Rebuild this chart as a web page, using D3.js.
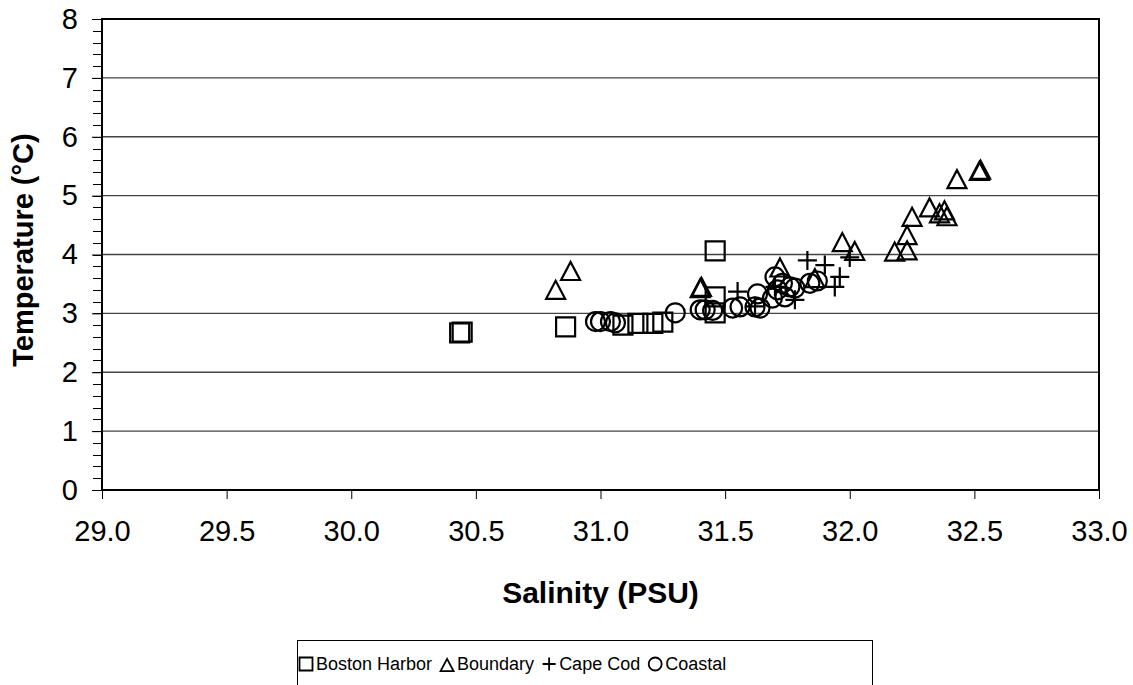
<!DOCTYPE html>
<html>
<head>
<meta charset="utf-8">
<script src="https://cdn.jsdelivr.net/npm/d3@7"></script>
<style>
  body { margin: 0; background: #fff; }
  text { font-family: "Liberation Sans", Arial, sans-serif; }
</style>
</head>
<body>
<div id="chart"></div>
<script>
// Salinity (PSU) / Temperature (°C)
var harborSal  = [30.435, 30.445, 30.86, 31.09, 31.15, 31.21, 31.25, 31.46, 31.46, 31.46];
var harborTemp = [2.67, 2.68, 2.77, 2.80, 2.83, 2.83, 2.85, 4.06, 3.28, 3.01];

var boundSal  = [30.82, 30.88, 31.40, 31.405, 31.72, 31.86, 31.97, 32.02, 32.18, 32.23, 32.23, 32.25, 32.32, 32.36, 32.38, 32.39, 32.43, 32.52, 32.525];
var boundTemp = [3.40, 3.72, 3.43, 3.45, 3.78, 3.60, 4.21, 4.06, 4.05, 4.07, 4.33, 4.64, 4.80, 4.70, 4.75, 4.65, 5.28, 5.42, 5.44];

var capeSal  = [31.55, 31.62, 31.70, 31.78, 31.83, 31.90, 31.96, 31.94, 32.00];
var capeTemp = [3.37, 3.12, 3.45, 3.23, 3.90, 3.82, 3.62, 3.45, 3.95];

var coastSal  = [30.98, 31.00, 31.04, 31.06, 31.30, 31.40, 31.42, 31.45, 31.53, 31.56, 31.62, 31.63, 31.64, 31.69, 31.70, 31.71, 31.73, 31.76, 31.74, 31.78, 31.84, 31.87];
var coastTemp = [2.86, 2.86, 2.86, 2.84, 3.01, 3.06, 3.06, 3.05, 3.09, 3.11, 3.11, 3.33, 3.09, 3.26, 3.62, 3.40, 3.51, 3.45, 3.28, 3.43, 3.51, 3.55];

var seriesNames = ["Boston Harbor", "Boundary", "Cape Cod", "Coastal"];
var xTicks = [29.0, 29.5, 30.0, 30.5, 31.0, 31.5, 32.0, 32.5, 33.0];
var yTicks = [0, 1, 2, 3, 4, 5, 6, 7, 8];

var width = 1133, height = 685;
var margin = {top: 19, right: 34, bottom: 195, left: 102};

var svg = d3.select("#chart").append("svg")
    .attr("width", width)
    .attr("height", height);

var x = d3.scaleLinear().domain([29, 33]).range([margin.left, width - margin.right]);
var y = d3.scaleLinear().domain([0, 8]).range([height - margin.bottom, margin.top]);

// gridlines
svg.append("g")
  .selectAll("line")
  .data(yTicks.slice(1, -1))
  .join("line")
    .attr("x1", x(29)).attr("x2", x(33))
    .attr("y1", d => y(d)).attr("y2", d => y(d))
    .attr("stroke", "#444").attr("stroke-width", 1.3);

// minor y ticks
svg.append("g")
  .selectAll("line")
  .data(d3.range(0, 8.01, 0.2))
  .join("line")
    .attr("x1", x(29) - 9).attr("x2", x(29))
    .attr("y1", d => Math.round(y(d)) + 0.5).attr("y2", d => Math.round(y(d)) + 0.5)
    .attr("stroke", "#000").attr("stroke-width", 1);

// y axis
svg.append("g")
  .attr("transform", `translate(${x(29)},0)`)
  .call(d3.axisLeft(y).tickValues(yTicks).tickSize(10).tickPadding(14).tickFormat(d3.format("d")))
  .call(g => g.select(".domain").remove())
  .call(g => g.selectAll("text").attr("font-size", 29).attr("fill", "#000")
      .attr("font-family", "Liberation Sans, Arial, sans-serif"));

// x axis
svg.append("g")
  .attr("transform", `translate(0,${y(0)})`)
  .call(d3.axisBottom(x).tickValues(xTicks).tickSize(9).tickPadding(21).tickFormat(d3.format(".1f")))
  .call(g => g.select(".domain").remove())
  .call(g => g.selectAll("text").attr("font-size", 29).attr("fill", "#000")
      .attr("font-family", "Liberation Sans, Arial, sans-serif"));

// frame
svg.append("rect")
  .attr("x", x(29)).attr("y", y(8))
  .attr("width", x(33) - x(29)).attr("height", y(0) - y(8))
  .attr("fill", "none").attr("stroke", "#000").attr("stroke-width", 2);

// axis titles
svg.append("text")
  .attr("x", (x(29) + x(33)) / 2).attr("y", 603)
  .attr("text-anchor", "middle")
  .attr("font-size", 30).attr("font-weight", "bold")
  .text("Salinity (PSU)");

svg.append("text")
  .attr("transform", `translate(33,250) rotate(-90)`)
  .attr("text-anchor", "middle")
  .attr("font-size", 29).attr("font-weight", "bold")
  .text("Temperature (°C)");

function markerPath(i, s) {
  if (i === 0) return `M${-s/2},${-s/2}h${s}v${s}h${-s}Z`;
  if (i === 1) { var h = s * 0.95; return `M0,${-h/2}L${s/2},${h/2}L${-s/2},${h/2}Z`; }
  if (i === 2) return `M${-s/2},0H${s/2}M0,${-s/2}V${s/2}`;
  return d3.arc()({innerRadius: 0, outerRadius: s / 2, startAngle: 0, endAngle: 2 * Math.PI});
}

var seriesData = [
  d3.zip(harborSal, harborTemp),
  d3.zip(boundSal, boundTemp),
  d3.zip(capeSal, capeTemp),
  d3.zip(coastSal, coastTemp)
];

var plot = svg.append("g");
seriesData.forEach(function(pts, i) {
  plot.append("g")
    .selectAll("path")
    .data(pts)
    .join("path")
      .attr("transform", d => `translate(${x(d[0])},${y(d[1])})`)
      .attr("d", markerPath(i, 19))
      .attr("fill", "none")
      .attr("stroke", "#000")
      .attr("stroke-width", 2.2);
});

// legend
var legend = svg.append("g");
legend.append("rect")
  .attr("x", 297.5).attr("y", 640.5)
  .attr("width", 575).attr("height", 60)
  .attr("fill", "#fff").attr("stroke", "#000").attr("stroke-width", 1);

var cx = 306;
seriesNames.forEach(function(name, i) {
  legend.append("path")
    .attr("transform", `translate(${cx},${i === 1 ? 665 : 664})`)
    .attr("d", markerPath(i, 13))
    .attr("fill", "none").attr("stroke", "#000").attr("stroke-width", 1.8);
  var t = legend.append("text")
    .attr("x", cx + 10).attr("y", 670)
    .attr("font-size", 18)
    .text(name);
  cx += 10 + t.node().getComputedTextLength() + 15;
});
</script>
</body>
</html>
